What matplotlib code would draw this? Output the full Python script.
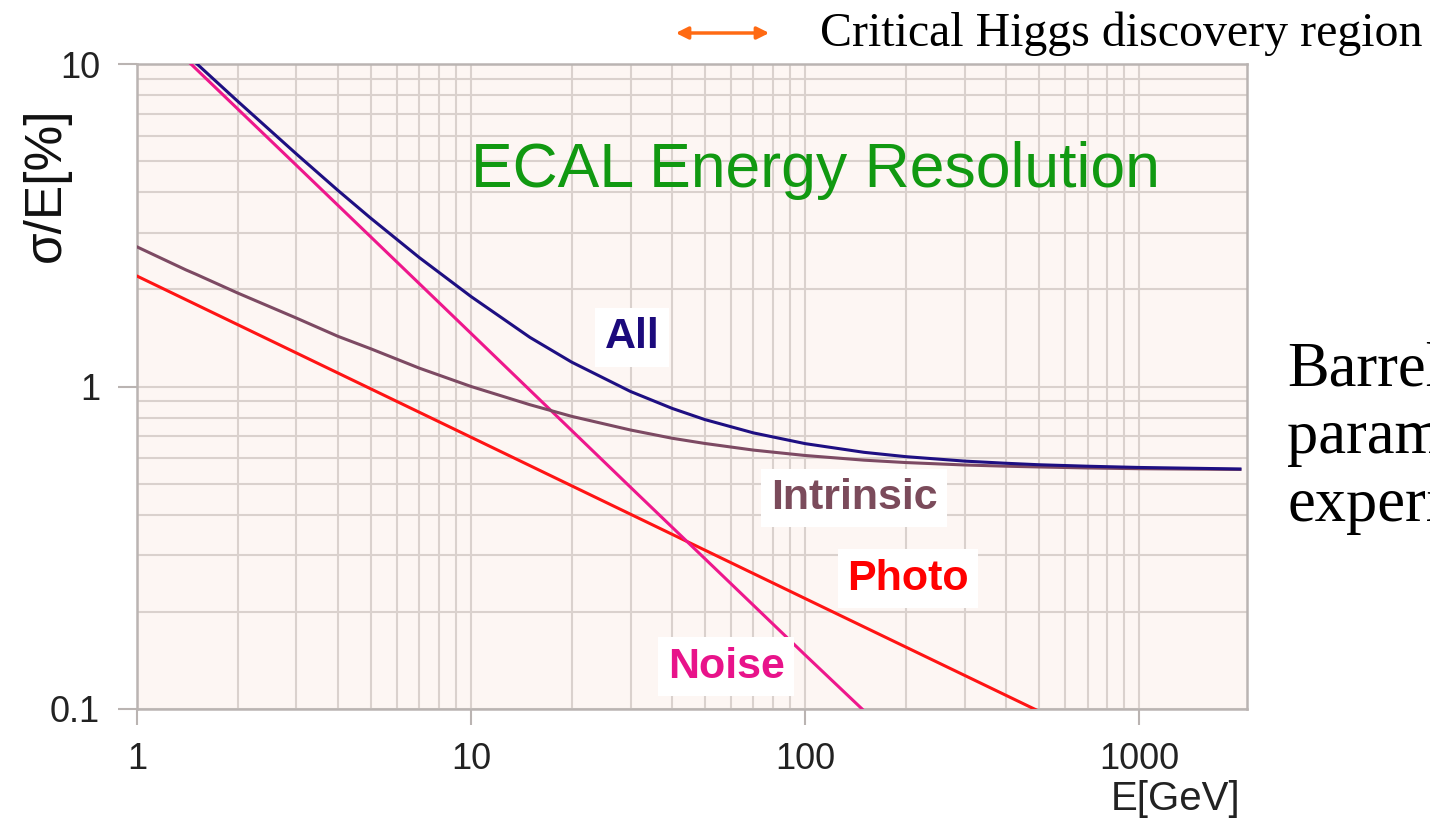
import matplotlib
matplotlib.use("Agg")
import matplotlib.pyplot as plt
from matplotlib.ticker import FixedLocator, FixedFormatter, NullFormatter

# values (E in GeV, resolution in %)
energy = [1, 1.4, 1.5, 2, 3, 4, 5, 7, 10, 15, 20, 30, 40, 50, 70, 100, 150, 200, 300, 400, 500, 700, 1000, 2000]
all_res = [14.9, 10.77, 10.08, 7.67, 5.26, 4.05, 3.33, 2.51, 1.90, 1.42, 1.19, 0.965, 0.855, 0.790, 0.718, 0.665,
           0.625, 0.606, 0.587, 0.578, 0.572, 0.566, 0.561, 0.555]
intrinsic_res = [2.71, 2.30, 2.23, 1.95, 1.63, 1.43, 1.31, 1.14, 1.00, 0.878, 0.808, 0.733, 0.691, 0.666, 0.635,
                 0.611, 0.591, 0.581, 0.571, 0.566, 0.563, 0.559, 0.556, 0.553]

noise_e = [1.45, 3, 10, 30, 100, 148]
noise_res = [10.0, 4.85, 1.46, 0.487, 0.147, 0.1]

photo_e = [1, 10, 100, 505]
photo_res = [2.2, 0.696, 0.22, 0.098]

x_major = [1, 10, 100, 1000]
x_labels = ['1', '10', '100', '1000']
y_major = [0.1, 1, 10]
y_labels = ['0.1', '1', '10']

plt.rcParams['font.family'] = ['Liberation Sans', 'DejaVu Sans']

fig = plt.figure(figsize=(14.3, 8.18), dpi=100)
W, H = 1430, 818
ax = fig.add_axes([137 / W, 1 - 709 / H, (1247 - 137) / W, (709 - 64) / H])
ax.set_facecolor('#fdf6f3')
ax.set_xscale('log')
ax.set_yscale('log')
ax.set_xlim(1, 2100)
ax.set_ylim(0.1, 10)

# grid: minor lines only inside the full decades on x
x_minor = [m * d for d in (1, 10, 100) for m in range(2, 10)]
y_minor = [m * d for d in (0.1, 1) for m in range(2, 10)]
ax.xaxis.set_major_locator(FixedLocator(x_major))
ax.xaxis.set_major_formatter(FixedFormatter(x_labels))
ax.xaxis.set_minor_locator(FixedLocator(x_minor))
ax.xaxis.set_minor_formatter(NullFormatter())
ax.yaxis.set_major_locator(FixedLocator(y_major))
ax.yaxis.set_major_formatter(FixedFormatter(y_labels))
ax.yaxis.set_minor_locator(FixedLocator(y_minor))
ax.yaxis.set_minor_formatter(NullFormatter())
ax.grid(True, which='both', color='#dad1cd', linewidth=1.5, zorder=0)
ax.set_axisbelow(True)

ax.tick_params(which='minor', length=0)
ax.tick_params(axis='y', which='major', length=13.7, pad=13, width=1.5, color='#bab4b2',
               labelsize=26, labelcolor='#222222')
ax.tick_params(axis='x', which='major', length=11.5, pad=12, width=1.5, color='#bab4b2',
               labelsize=26, labelcolor='#222222')
for s in ax.spines.values():
    s.set_color('#bab4b2')
    s.set_linewidth(1.8)

ax.plot(photo_e, photo_res, color='#ff1414', lw=2.2, zorder=3)
ax.plot(noise_e, noise_res, color='#ee178c', lw=2.2, zorder=3)
ax.plot(energy, intrinsic_res, color='#7d4a63', lw=2.2, zorder=4)
ax.plot(energy, all_res, color='#1e0f82', lw=2.2, zorder=5)

box = dict(boxstyle='square,pad=0.22', facecolor='white', edgecolor='none')
ax.text(30.3, 1.316, 'All', color='#1c0a7c', fontsize=31, fontweight='bold',
        ha='center', va='baseline', bbox=box, zorder=6)
ax.text(140, 0.417, 'Intrinsic', color='#7b4b5b', fontsize=31, fontweight='bold',
        ha='center', va='baseline', bbox=box, zorder=6)
ax.text(203, 0.234, 'Photo', color='#ff0000', fontsize=31, fontweight='bold',
        ha='center', va='baseline', bbox=box, zorder=6)
ax.text(58, 0.1248, 'Noise', color='#e8138a', fontsize=31, fontweight='bold',
        ha='center', va='baseline', bbox=box, zorder=6)

ax.text(107, 4.155, 'ECAL Energy Resolution', color='#119911', fontsize=45,
        ha='center', va='baseline', zorder=6)

fig.text(46 / W, 1 - 185 / H, 'σ/E[%]', rotation=90, ha='center', va='center',
         fontsize=37, color='#111111')
fig.text(1240 / W, 1 - 810 / H, 'E[GeV]', ha='right', va='baseline', fontsize=29,
         color='#222222')

# top annotation
ax.annotate('', xy=(772 / W, 1 - 33 / H), xytext=(673 / W, 1 - 33 / H),
            xycoords='figure fraction', textcoords='figure fraction',
            arrowprops=dict(arrowstyle='<|-|>', color='#ff6a13', lw=2.5, mutation_scale=18),
            annotation_clip=False)
fig.text(820 / W, 1 - 46 / H, 'Critical Higgs discovery region', family='Liberation Serif',
         fontsize=34.5, ha='left', va='baseline', color='black')

# side text, cut by the figure edge as in the slide
serif = dict(family='Liberation Serif', fontsize=45, ha='left', va='baseline', color='black')
fig.text(1287 / W, 1 - 385 / H, 'Barrel', **serif)
fig.text(1287 / W, 1 - 453 / H, 'parameters', **serif)
fig.text(1287 / W, 1 - 521 / H, 'experiment', **serif)

fig.savefig('out.png', dpi=100)
